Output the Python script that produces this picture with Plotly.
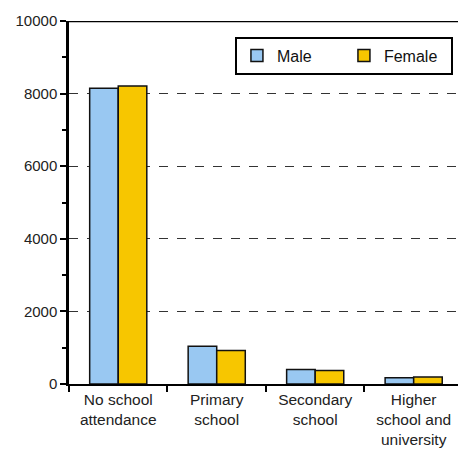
import plotly.graph_objects as go

categories = ["No school<br>attendance", "Primary<br>school", "Secondary<br>school", "Higher<br>school and<br>university"]
male = [8150, 1040, 400, 170]
female = [8210, 925, 375, 190]

fig = go.Figure()
fig.add_trace(go.Bar(name="Male", x=categories, y=male,
                     marker=dict(color="#99C8F2", line=dict(color="#111111", width=1.5))))
fig.add_trace(go.Bar(name="Female", x=categories, y=female,
                     marker=dict(color="#F7C600", line=dict(color="#111111", width=1.5))))

fig.update_layout(
    width=458, height=456,
    margin=dict(l=69, r=0, t=21, b=72, autoexpand=False),
    paper_bgcolor="white", plot_bgcolor="white",
    barmode="group", bargap=0.42, bargroupgap=0,
    font=dict(family="Liberation Sans, Arial, sans-serif", color="#222222"),
    legend=dict(orientation="h", x=0.987, y=0.957, xanchor="right", yanchor="top",
                bordercolor="black", borderwidth=2, bgcolor="white",
                font=dict(size=16, color="#111111"), itemwidth=30,
                entrywidth=62, entrywidthmode="pixels",
                tracegroupgap=0, traceorder="normal"),
    showlegend=True,
)
fig.update_xaxes(range=[-0.5, 3.45], showline=True, linecolor="black", linewidth=2,
                 ticks="outside", tickson="boundaries", ticklen=6, tickcolor="black", tickwidth=2,
                 tickfont=dict(size=15.5, color="#222222"), showgrid=False)
fig.update_yaxes(range=[0, 10000], dtick=2000, tickformat="d", showline=True, linecolor="black", linewidth=2.5,
                 ticks="outside", ticklen=6, tickcolor="black", tickwidth=1.5,
                 minor=dict(ticks="outside", dtick=1000, ticklen=4, tickcolor="black", tickwidth=1.5, showgrid=False),
                 showgrid=True, gridcolor="#333333", griddash="dash", gridwidth=1,
                 tickfont=dict(size=15, color="#222222"), zeroline=False)
fig.add_shape(type="line", xref="paper", yref="y", x0=0, x1=1, y0=10000, y1=10000,
              line=dict(color="black", width=2.5))
fig.write_html("out.html", config={"displayModeBar": False},
               post_script="document.body.style.margin='0';document.body.style.overflow='hidden';")
